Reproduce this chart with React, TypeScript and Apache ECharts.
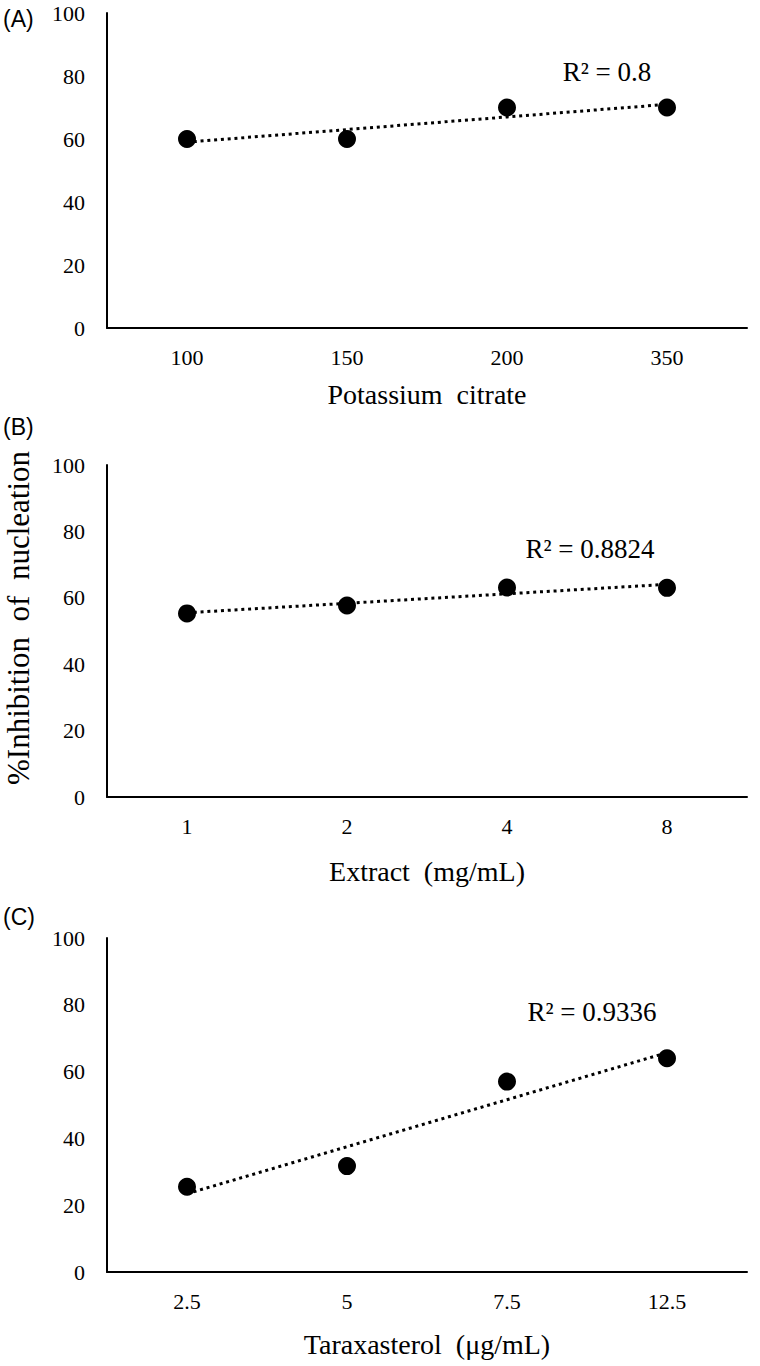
import React, { useEffect, useRef } from "react";
import * as echarts from "echarts";

const potassiumCats = ["100", "150", "200", "350"];
const potassiumValues = [60, 60, 70, 70];
const extractCats = ["1", "2", "4", "8"];
const extractValues = [55.3, 57.7, 63.1, 63.0];
const taraxCats = ["2.5", "5", "7.5", "12.5"];
const taraxValues = [25.5, 31.7, 57, 64];
const xTitles = ["Potassium  citrate", "Extract  (mg/mL)", "Taraxasterol  (μg/mL)"];
const r2Labels = ["R² = 0.8", "R² = 0.8824", "R² = 0.9336"];
const panelLabels = ["(A)", "(B)", "(C)"];
const yTitle = "%Inhibition  of  nucleation";
const yMin = 0;
const yMax = 100;
const yInterval = 20;

function trend(values: number[]): number[] {
  const n = values.length;
  const xs = values.map((_, i) => i + 1);
  const mx = xs.reduce((a, b) => a + b, 0) / n;
  const my = values.reduce((a, b) => a + b, 0) / n;
  let sxy = 0;
  let sxx = 0;
  for (let i = 0; i < n; i++) {
    sxy += (xs[i] - mx) * (values[i] - my);
    sxx += (xs[i] - mx) * (xs[i] - mx);
  }
  const slope = sxy / sxx;
  const icpt = my - slope * mx;
  return xs.map((x) => icpt + slope * x);
}

const SERIF = "'Liberation Serif', 'Times New Roman', serif";
const SANS = "'Liberation Sans', Arial, sans-serif";

export default function App() {
  const ref = useRef<HTMLDivElement>(null);
  useEffect(() => {
    if (!ref.current) return;
    const chart = echarts.init(ref.current, undefined, { renderer: "svg" });
    const panels = [
      { cats: potassiumCats, vals: potassiumValues, top: 13, height: 315, nameGap: 52 },
      { cats: extractCats, vals: extractValues, top: 465, height: 332, nameGap: 60 },
      { cats: taraxCats, vals: taraxValues, top: 938, height: 334, nameGap: 58 },
    ];
    const r2Pos = [
      [607, 72],
      [590, 549],
      [592, 1012],
    ];
    const labelPos = [19, 427, 917];
    const axisLine = { show: true, lineStyle: { color: "#000", width: 2 } };
    const option: any = {
      animation: false,
      backgroundColor: "#fff",
      grid: panels.map((p) => ({ left: 107, width: 640, top: p.top, height: p.height })),
      xAxis: panels.map((p, i) => ({
        type: "category",
        gridIndex: i,
        data: p.cats,
        boundaryGap: true,
        axisLine,
        axisTick: { show: false },
        axisLabel: { color: "#000", fontFamily: SERIF, fontSize: 22, margin: 18 },
        name: xTitles[i],
        nameLocation: "middle",
        nameGap: p.nameGap,
        nameTextStyle: { color: "#000", fontFamily: SERIF, fontSize: 28 },
        splitLine: { show: false },
      })),
      yAxis: panels.map((p, i) => ({
        type: "value",
        gridIndex: i,
        min: yMin,
        max: yMax,
        interval: yInterval,
        axisLine,
        axisTick: { show: false },
        axisLabel: { color: "#000", fontFamily: SERIF, fontSize: 22, margin: 22 },
        splitLine: { show: false },
      })),
      series: panels.flatMap((p, i) => [
        {
          type: "line",
          xAxisIndex: i,
          yAxisIndex: i,
          data: trend(p.vals),
          symbol: "none",
          silent: true,
          z: 1,
          lineStyle: { color: "#000", width: 3, type: [3, 3.8] },
        },
        {
          type: "scatter",
          xAxisIndex: i,
          yAxisIndex: i,
          data: p.vals,
          symbol: "circle",
          symbolSize: 18,
          z: 3,
          itemStyle: { color: "#000", opacity: 1 },
        },
      ]),
      graphic: [
        ...r2Labels.map((t, i) => ({
          type: "text",
          x: r2Pos[i][0],
          y: r2Pos[i][1],
          style: {
            text: t,
            fill: "#000",
            font: `27px ${SERIF}`,
            textAlign: "center",
            textVerticalAlign: "middle",
          },
        })),
        ...panelLabels.map((t, i) => ({
          type: "text",
          x: 3,
          y: labelPos[i],
          style: {
            text: t,
            fill: "#000",
            font: `23px ${SANS}`,
            textAlign: "left",
            textVerticalAlign: "middle",
          },
        })),
        {
          type: "text",
          x: 18,
          y: 618,
          rotation: Math.PI / 2,
          style: {
            text: yTitle,
            fill: "#000",
            font: `31px ${SERIF}`,
            textAlign: "center",
            textVerticalAlign: "middle",
          },
        },
      ],
    };
    chart.setOption(option);
    return () => chart.dispose();
  }, []);
  return (
    <div
      ref={ref}
      style={{ position: "absolute", left: 0, top: 0, width: 760, height: 1366 }}
    />
  );
}
